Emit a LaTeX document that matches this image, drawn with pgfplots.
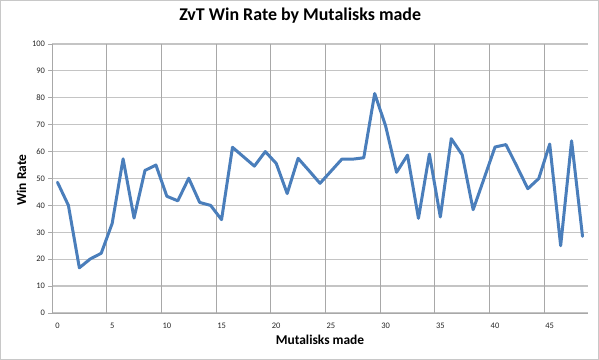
\documentclass[border=0pt]{standalone}
\usepackage{pgfplots}
\pgfplotsset{compat=1.18}
\usepackage{fontspec}
\setmainfont{Carlito}
\definecolor{lineblue}{HTML}{4A7EBB}
\definecolor{hgrid}{HTML}{C4C4C4}
\definecolor{vgrid}{HTML}{A8A8A8}
\definecolor{frame}{HTML}{C8C8C8}
\begin{document}
\begin{tikzpicture}
\draw[frame, line width=1bp, use as bounding box] (-51.5bp,-46.5bp) rectangle (546.5bp,312.5bp);
\begin{axis}[
  at={(0,0)}, anchor=south west,
  scale only axis, width=536bp, height=269bp,
  xmin=-0.5, xmax=48.5, ymin=0, ymax=100,
  axis lines=left, axis line style={vgrid, line width=0.8bp, -},
  xtick={0,5,...,45}, xtick style={draw=none},
  extra x ticks={4.5,9.5,...,44.5}, extra x tick labels={},
  extra x tick style={grid=major, major grid style={vgrid, line width=0.8bp}, tick style={draw=none}},
  ytick={0,10,...,100},
  ymajorgrids, major grid style={hgrid, line width=1.2bp},
  y tick style={vgrid, line width=0.8bp}, tick align=outside, major tick length=3.5bp,
  tick label style={font=\fontsize{8.5}{9}\selectfont, text=black!85},
  /pgf/number format/assume math mode=true,
  xticklabel style={yshift=-3bp},
  title={\bfseries ZvT Win Rate by Mutalisks made},
  title style={font=\fontsize{18}{20}\selectfont, at={(axis description cs:0.463,1.082)}, anchor=center},
  xlabel={\bfseries Mutalisks made},
  xlabel style={font=\fontsize{13.5}{15}\selectfont, at={(axis description cs:0.5,-0.1)}, anchor=center},
  ylabel={\bfseries Win Rate},
  ylabel style={font=\fontsize{13.5}{15}\selectfont, at={(axis description cs:-0.057,0.494)}, anchor=center},
  clip=false,
]
\addplot[lineblue, line width=3bp, line join=round, line cap=round] coordinates {
(0,48.6) (1,40) (2,16.8) (3,20.1) (4,22.2) (5,33.3) (6,57.3) (7,35.3) (8,53) (9,55)
(10,43.4) (11,41.7) (12,50.1) (13,41.1) (14,40) (15,34.7) (16,61.6) (17,58.1) (18,54.6) (19,60)
(20,55.6) (21,44.4) (22,57.5) (23,52.9) (24,48.2) (25,52.7) (26,57.2) (27,57.2) (28,57.7) (29,81.6)
(30,69.5) (31,52.3) (32,58.7) (33,35.2) (34,59.1) (35,35.7) (36,64.8) (37,58.8) (38,38.4) (39,50)
(40,61.7) (41,62.6) (42,54.5) (43,46.2) (44,50) (45,62.8) (46,25) (47,64) (48,28.5)
};
\end{axis}
\end{tikzpicture}
\end{document}
